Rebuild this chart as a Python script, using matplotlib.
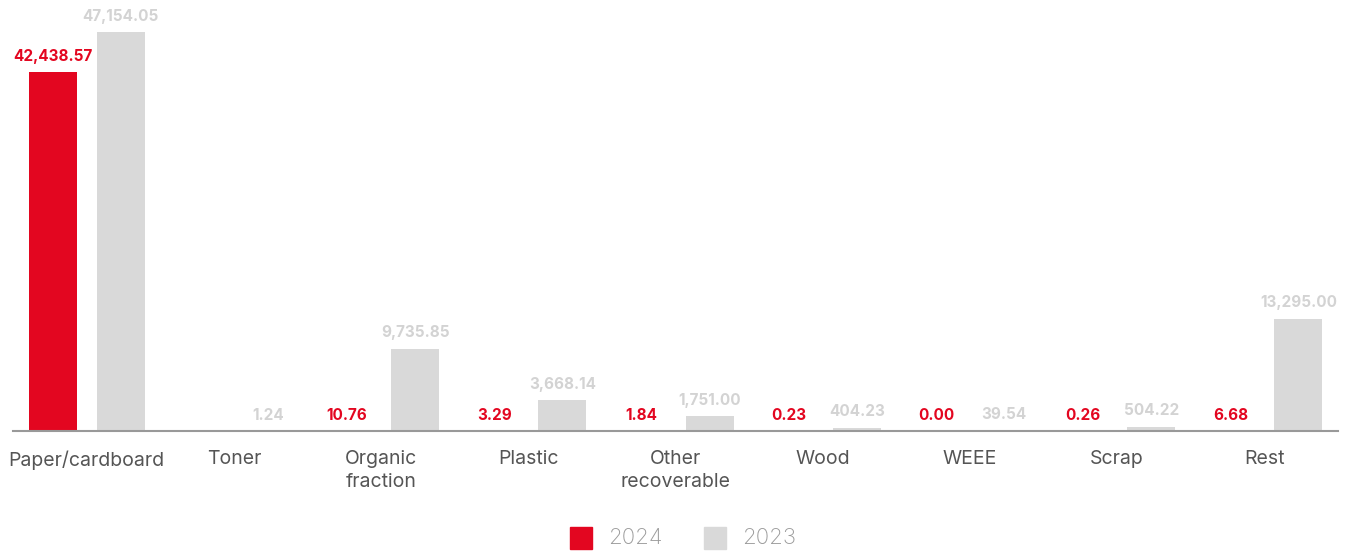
import matplotlib
matplotlib.use("Agg")
import matplotlib.pyplot as plt
import numpy as np
from matplotlib.patches import Rectangle

categories = ["Paper/cardboard", "Toner", "Organic\nfraction", "Plastic", "Other\nrecoverable",
              "Wood", "WEEE", "Scrap", "Rest"]
values_2024 = [42438.57, 0.0, 10.76, 3.29, 1.84, 0.23, 0.00, 0.26, 6.68]
labels_2024 = ["42,438.57", "", "10.76", "3.29", "1.84", "0.23", "0.00", "0.26", "6.68"]
values_2023 = [47154.05, 1.24, 9735.85, 3668.14, 1751.00, 404.23, 39.54, 504.22, 13295.00]
labels_2023 = ["47,154.05", "1.24", "9,735.85", "3,668.14", "1,751.00", "404.23", "39.54", "504.22", "13,295.00"]
series_names = ["2024", "2023"]

RED = "#E30620"
GRAY = "#D9D9D9"
GRAY_TXT = "#D3D3D3"
FONT = "Inter"

W, H = 1347, 551
fig = plt.figure(figsize=(W / 100, H / 100), dpi=100)
left, right, base, top = 13, 1338, 431, 0
ax = fig.add_axes([left / W, (H - base) / H, (right - left) / W, (base - top) / H])

x = np.arange(len(categories))
bw = 0.326
off = 0.231
ax.bar(x - off, values_2024, bw, color=RED, zorder=2)
ax.bar(x + off, values_2023, bw, color=GRAY, zorder=2)

ax.set_xlim(-0.5, len(categories) - 0.5)
ax.set_ylim(0, 47154.05 * 431 / 399)

for xi, v, lab in zip(x, values_2024, labels_2024):
    if lab:
        ax.annotate(lab, (xi - off, v), xytext=(0, 6), textcoords="offset points",
                    ha="center", va="bottom", color=RED, fontsize=11,
                    fontweight="bold", family=FONT)
for xi, v, lab in zip(x, values_2023, labels_2023):
    ax.annotate(lab, (xi + off, v), xytext=(0, 6), textcoords="offset points",
                ha="center", va="bottom", color=GRAY_TXT, fontsize=11,
                fontweight="bold", family=FONT)

for s in ["top", "right", "left"]:
    ax.spines[s].set_visible(False)
ax.spines["bottom"].set_color("#999999")
ax.spines["bottom"].set_linewidth(1.5)
ax.set_yticks([])
ax.set_xticks(x)
ax.set_xticklabels(categories, fontsize=14, color="#555555", family=FONT,
                   linespacing=1.3)
ax.tick_params(axis="x", length=0, pad=14)

# legend drawn at fixed figure positions
sq = 22
for (px, col), name, tx in zip([(570, RED), (704, GRAY)], series_names, [608, 742]):
    fig.patches.append(Rectangle((px / W, (H - 549) / H), sq / W, sq / H,
                                 transform=fig.transFigure, color=col, figure=fig))
    fig.text(tx / W, (H - 538) / H, name, ha="left", va="center", fontsize=16,
             color="#9A9A9A", family=FONT, fontweight="light")

fig.savefig("out.png", dpi=100)
